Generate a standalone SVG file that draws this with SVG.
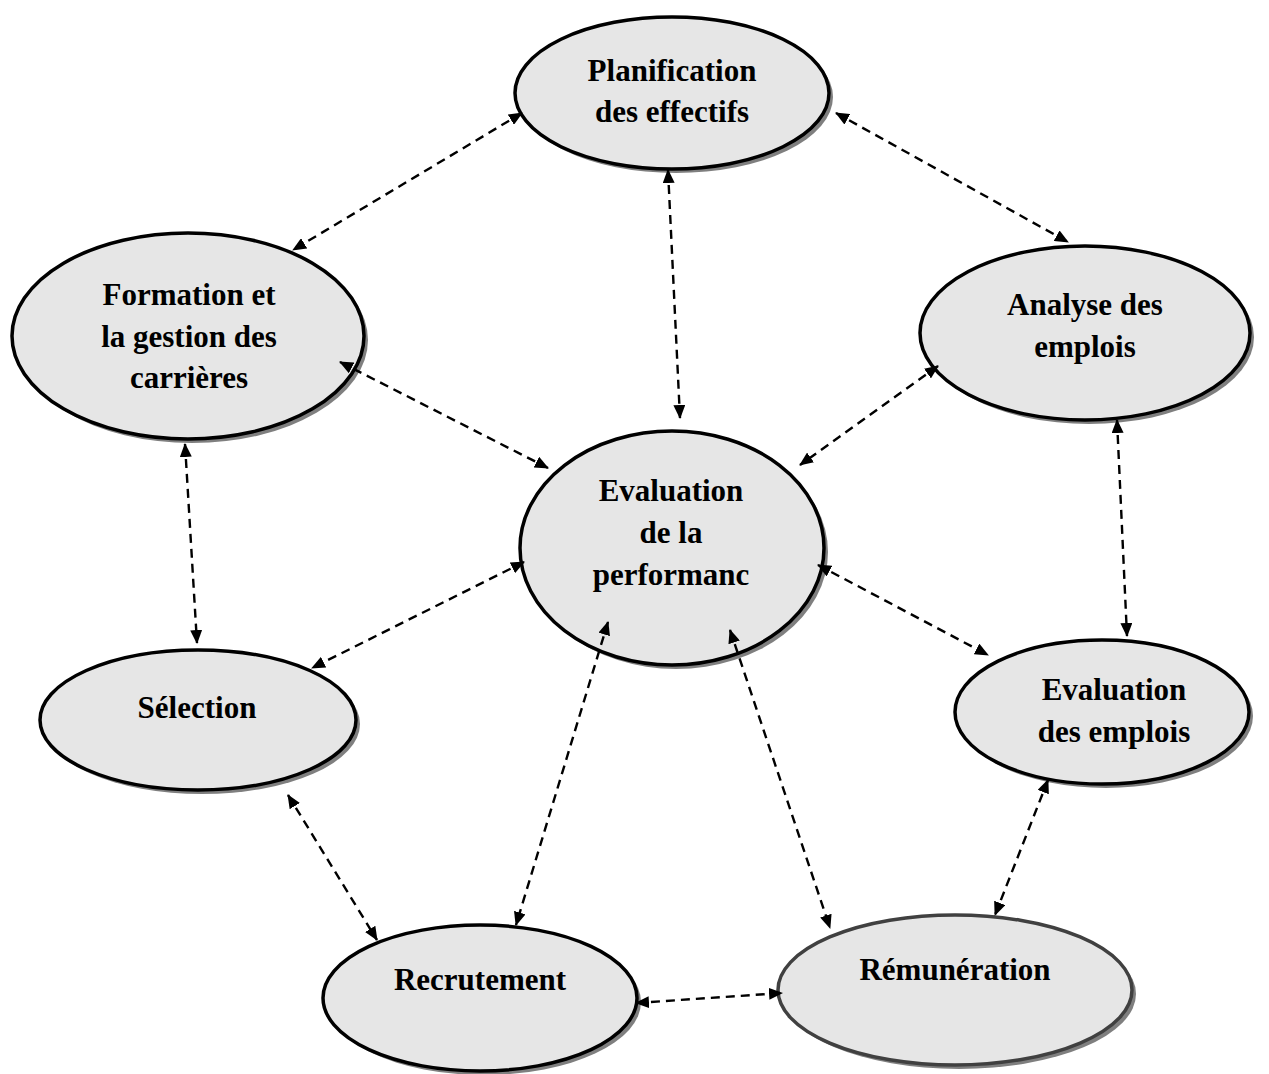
<svg xmlns="http://www.w3.org/2000/svg" width="1269" height="1074" viewBox="0 0 1269 1074">
<style>
.sh{fill:#7f7f7f}
.nd{fill:#e6e6e6;stroke:#000;stroke-width:3.5}
.nd2{fill:#e6e6e6;stroke:#404040;stroke-width:3.5}
text{font-family:"Liberation Serif","Times New Roman",serif;font-weight:bold;font-size:31px;text-anchor:middle;fill:#000}
.c line{stroke:#000;stroke-width:2.4;stroke-dasharray:9,6;fill:none;marker-start:url(#a);marker-end:url(#a)}
</style>
<defs>
<marker id="a" viewBox="0 0 14 12" refX="13" refY="6" markerWidth="14" markerHeight="12" markerUnits="userSpaceOnUse" orient="auto-start-reverse">
<path d="M0,0 L14,6 L0,12 z" fill="#000"/>
</marker>
</defs>
<rect width="1269" height="1074" fill="#fff"/>
<g id="planification">
<ellipse class="sh" cx="676" cy="97" rx="157" ry="76"/>
<ellipse class="nd" cx="672" cy="93" rx="157" ry="76"/>
<text x="672" y="81">Planification</text>
<text x="672" y="122">des effectifs</text>
</g>
<g id="formation">
<ellipse class="sh" cx="192" cy="340" rx="176" ry="103"/>
<ellipse class="nd" cx="188" cy="336" rx="176" ry="103"/>
<text x="189" y="305">Formation et</text>
<text x="189" y="347">la gestion des</text>
<text x="189" y="388">carrières</text>
</g>
<g id="analyse">
<ellipse class="sh" cx="1089" cy="337" rx="165" ry="87"/>
<ellipse class="nd" cx="1085" cy="333" rx="165" ry="87"/>
<text x="1085" y="315">Analyse des</text>
<text x="1085" y="357">emplois</text>
</g>
<g id="evaluation-performance">
<ellipse class="sh" cx="676" cy="552" rx="152" ry="117"/>
<ellipse class="nd" cx="672" cy="548" rx="152" ry="117"/>
<text x="671" y="501">Evaluation</text>
<text x="671" y="543">de la</text>
<text x="671" y="585">performanc</text>
</g>
<g id="selection">
<ellipse class="sh" cx="202" cy="724" rx="158" ry="70"/>
<ellipse class="nd" cx="198" cy="720" rx="158" ry="70"/>
<text x="197" y="718">Sélection</text>
</g>
<g id="evaluation-emplois">
<ellipse class="sh" cx="1106" cy="716" rx="147" ry="72"/>
<ellipse class="nd" cx="1102" cy="712" rx="147" ry="72"/>
<text x="1114" y="700">Evaluation</text>
<text x="1114" y="742">des emplois</text>
</g>
<g id="recrutement">
<ellipse class="sh" cx="484" cy="1002" rx="157" ry="73"/>
<ellipse class="nd" cx="480" cy="998" rx="157" ry="73"/>
<text x="480" y="990">Recrutement</text>
</g>
<g id="remuneration">
<ellipse class="sh" cx="959" cy="994" rx="177" ry="75"/>
<ellipse class="nd2" cx="955" cy="990" rx="177" ry="75"/>
<text x="955" y="980">Rémunération</text>
</g>
<g class="c" id="connectors">
<line x1="522" y1="113" x2="293" y2="250"/>
<line x1="836" y1="113" x2="1068" y2="242"/>
<line x1="668" y1="170" x2="680" y2="418"/>
<line x1="340" y1="362" x2="548" y2="468"/>
<line x1="938" y1="366" x2="800" y2="465"/>
<line x1="185" y1="444" x2="197" y2="643"/>
<line x1="1117" y1="420" x2="1127" y2="636"/>
<line x1="524" y1="562" x2="312" y2="668"/>
<line x1="818" y1="565" x2="988" y2="655"/>
<line x1="288" y1="795" x2="377" y2="940"/>
<line x1="608" y1="622" x2="516" y2="925"/>
<line x1="730" y1="630" x2="830" y2="928"/>
<line x1="1048" y1="780" x2="995" y2="915"/>
<line x1="636" y1="1003" x2="782" y2="993"/>
</g>
</svg>
